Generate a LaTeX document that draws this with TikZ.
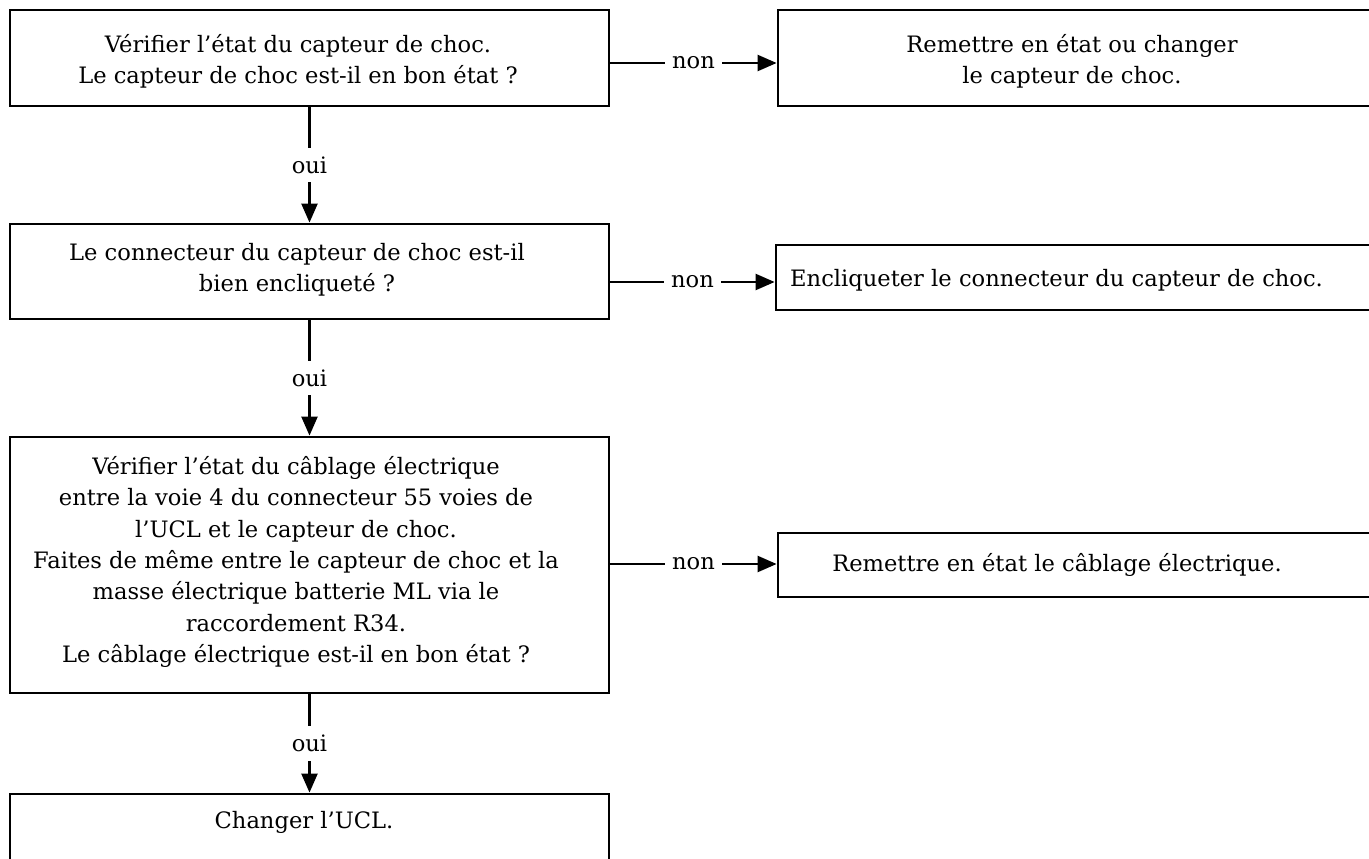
\documentclass[tikz,border=0pt]{standalone}
\usepackage{fontspec}
\setmainfont{DejaVu Serif}
\usetikzlibrary{arrows.meta,positioning,calc}
\begin{document}
\begin{tikzpicture}[x=1pt,y=-1pt,
  txt/.style={font=\fontsize{22.6}{31.3}\selectfont,align=center,inner sep=0pt},
  box/.style={draw,line width=2.8pt,inner sep=0pt},
  conn/.style={line width=2.3pt,-{Triangle[length=19pt,width=16pt]}},
  lbl/.style={fill=white,inner xsep=7pt,inner ysep=6pt,font=\fontsize{22.6}{31.3}\selectfont}]
\useasboundingbox (0,0) rectangle (1369,859);
% left column boxes
\node[box,minimum width=599pt,minimum height=96pt] (b1) at (309.5,58) {};
\node[box,minimum width=599pt,minimum height=95pt] (b2) at (309.5,271.5) {};
\node[box,minimum width=599pt,minimum height=256pt] (b3) at (309.5,565) {};
\node[box,minimum width=599pt,minimum height=90pt] (b4) at (309.5,839) {};
% left column texts
\node[txt] (t1) at (298,61) {V\'erifier l'\'etat du capteur de choc.\\Le capteur de choc est-il en bon \'etat ?};
\node[txt] (t2) at (297,270) {Le connecteur du capteur de choc est-il\\bien encliquet\'e ?};
\node[txt] (t3) at (296,562) {V\'erifier l'\'etat du c\^ablage \'electrique\\entre la voie 4 du connecteur 55 voies de\\l'UCL et le capteur de choc.\\Faites de m\^eme entre le capteur de choc et la\\masse \'electrique batterie ML via le\\raccordement R34.\\Le c\^ablage \'electrique est-il en bon \'etat ?};
\node[txt] (t4) at (304,822) {Changer l'UCL.};
% right column boxes
\node[box,minimum width=620pt,minimum height=96pt] (r1) at (1088,58) {};
\node[box,minimum width=620pt,minimum height=65pt] (r2) at (1086,277.5) {};
\node[box,minimum width=620pt,minimum height=64pt] (r3) at (1088,565) {};
% right column texts
\node[txt] (u1) at (1072,61) {Remettre en \'etat ou changer\\le capteur de choc.};
\node[txt,anchor=west] (u2) at (790,280) {Encliqueter le connecteur du capteur de choc.};
\node[txt] (u3) at (1057,565) {Remettre en \'etat le c\^ablage \'electrique.};
% connectors
\draw[conn] (b1.east |- 0,63) -- node[lbl]{non} (r1.west |- 0,63);
\draw[conn] (b2.east |- 0,282) -- node[lbl]{non} (r2.west |- 0,282);
\draw[conn] (b3.east |- 0,564) -- node[lbl]{non} (r3.west |- 0,564);
\draw[conn] (b1.south) -- node[lbl,inner ysep=9pt]{oui} (b2.north);
\draw[conn] (b2.south) -- node[lbl,inner ysep=9pt]{oui} (b3.north);
\draw[conn] (b3.south) -- node[lbl,inner ysep=9pt]{oui} (b4.north);
\end{tikzpicture}
\end{document}
